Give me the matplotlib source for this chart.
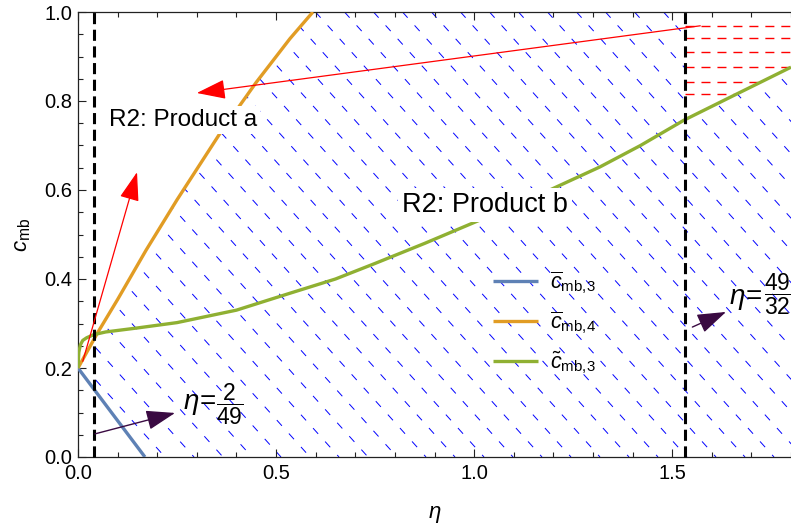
import numpy as np
import matplotlib
matplotlib.use('Agg')
import matplotlib.pyplot as plt
from matplotlib.collections import LineCollection
from matplotlib.patches import Polygon

plt.rcParams['font.family'] = ['Liberation Sans', 'DejaVu Sans']
plt.rcParams['mathtext.fontset'] = 'custom'
plt.rcParams['mathtext.rm'] = 'Liberation Sans'
plt.rcParams['mathtext.it'] = 'Liberation Sans:italic'
plt.rcParams['mathtext.bf'] = 'Liberation Sans:bold'
plt.rcParams['lines.scale_dashes'] = False

# curves
BLUE_X = [0.0, 0.169]
BLUE_Y = [0.2, 0.0]
ORANGE_X = [0.0, 0.05, 0.1, 0.172, 0.25, 0.359, 0.45, 0.535, 0.593]
ORANGE_Y = [0.2, 0.28, 0.354, 0.465, 0.578, 0.728, 0.842, 0.94, 1.0]
GREEN_X = [0.0, 0.002, 0.006, 0.012, 0.022, 0.04, 0.07, 0.15, 0.25, 0.4, 0.535,
           0.65, 0.75, 0.875, 1.008, 1.13, 1.235, 1.318, 1.42, 1.53, 1.65, 1.8]
GREEN_Y = [0.2, 0.235, 0.252, 0.262, 0.268, 0.275, 0.281, 0.29, 0.302, 0.33, 0.368,
           0.40, 0.435, 0.48, 0.53, 0.575, 0.618, 0.652, 0.70, 0.757, 0.81, 0.876]
LABELS = [r'$\overline{c}_{\mathrm{mb{,}3}}$', r'$\overline{c}_{\mathrm{mb{,}4}}$',
          r'$\tilde{c}_{\mathrm{mb{,}3}}$']
ETA_1 = 2 / 49
ETA_2 = 49 / 32
RED_Y = [0.9692, 0.9408, 0.9108, 0.8757, 0.8434, 0.8157]

C_BLUE = '#5E81B5'
C_ORANGE = '#E19C24'
C_GREEN = '#8FB032'
C_PURPLE = '#3a0a42'

fig = plt.figure(figsize=(7.91, 5.29), dpi=100)
ax = fig.add_axes([78 / 791, 72 / 529, 713 / 791, 445 / 529])
ax.set_xlim(0, 1.8)
ax.set_ylim(0, 1.0)

# clip regions
o_at = np.interp(ETA_1, ORANGE_X, ORANGE_Y)
b_at = np.interp(ETA_1, BLUE_X, BLUE_Y)
g_at = np.interp(ETA_2, GREEN_X, GREEN_Y)
ox = [x for x in ORANGE_X if x > ETA_1]
oy = [y for x, y in zip(ORANGE_X, ORANGE_Y) if x > ETA_1]
gx = [x for x in GREEN_X if x > ETA_2]
gy = [y for x, y in zip(GREEN_X, GREEN_Y) if x > ETA_2]
blue_poly = ([(ETA_1, b_at), (ETA_1, o_at)] + list(zip(ox, oy)) +
             [(ETA_2, 1.0), (ETA_2, g_at)] + list(zip(gx, gy)) +
             [(1.8, 0.0), (BLUE_X[-1], 0.0)])
blue_clip = Polygon(blue_poly, closed=True, transform=ax.transData,
                    facecolor='none', edgecolor='none')
ax.add_patch(blue_clip)
red_poly = [(ETA_2, g_at)] + list(zip(gx, gy)) + [(1.8, 1.0), (ETA_2, 1.0)]
red_clip = Polygon(red_poly, closed=True, transform=ax.transData,
                   facecolor='none', edgecolor='none')
ax.add_patch(red_clip)

# blue dashed hatching (drawn in axes fraction)
W, H = 713.0, 445.0
slope = 0.9
segs = []
for x0 in np.arange(-slope * H, W + 30, 29.0):
    segs.append([(x0 / W, 1.0), ((x0 + slope * H) / W, 0.0)])
hatch = LineCollection(segs, colors='#0000ff', linewidths=0.7,
                       linestyles=[(0, (5.5, 7.5))], transform=ax.transAxes, zorder=1)
hatch.set_clip_path(blue_clip)
ax.add_collection(hatch)

# red horizontal dashes
rsegs = [[(ETA_2, y), (1.8, y)] for y in RED_Y]
rh = LineCollection(rsegs, colors='#ff0000', linewidths=1.0,
                    linestyles=[(0, (6.5, 5.0))], zorder=1)
rh.set_clip_path(red_clip)
ax.add_collection(rh)

l1, = ax.plot(BLUE_X, BLUE_Y, color=C_BLUE, lw=2.4, zorder=3, solid_capstyle='butt')
l2, = ax.plot(ORANGE_X, ORANGE_Y, color=C_ORANGE, lw=2.4, zorder=3, solid_capstyle='butt')
l3, = ax.plot(GREEN_X, GREEN_Y, color=C_GREEN, lw=2.4, zorder=3, solid_capstyle='butt')

for xv in (ETA_1, ETA_2):
    ax.plot([xv, xv], [0, 1], color='black', lw=2.2, ls=(0, (8, 4)), zorder=4, clip_on=False)

ax.text(0.078, 0.744, 'R2: Product a', fontsize=17.5, va='baseline', ha='left', zorder=5,
        bbox=dict(boxstyle='square,pad=0.12', fc='white', ec='none'))
ax.text(0.818, 0.551, 'R2: Product b', fontsize=19.5, va='baseline', ha='left', zorder=5,
        bbox=dict(boxstyle='square,pad=0.15', fc='white', ec='none'))

# eta annotations: "eta =" and the fraction as two pieces
ax.text(0.265, 0.118, r'$\eta\!=$', fontsize=20, va='center', ha='left', zorder=6)
ax.text(0.382, 0.119, r'$\dfrac{2}{49}$', fontsize=16.5, va='center', ha='center', zorder=6)
ax.text(1.644, 0.355, r'$\eta\!=$', fontsize=20, va='center', ha='left', zorder=6)
ax.text(1.766, 0.366, r'$\dfrac{49}{32}$', fontsize=16.5, va='center', ha='center', zorder=6)

head = '-|>,head_length=0.5,head_width=0.17'
ax.annotate('', xy=(0.245, 0.099), xytext=(0.043, 0.052), zorder=6,
            arrowprops=dict(arrowstyle=head, color=C_PURPLE, lw=1.0, mutation_scale=36,
                            shrinkA=0, shrinkB=0))
ax.annotate('', xy=(1.636, 0.326), xytext=(1.551, 0.292), zorder=6,
            arrowprops=dict(arrowstyle=head, color=C_PURPLE, lw=1.0, mutation_scale=36,
                            shrinkA=0, shrinkB=0))
ax.annotate('', xy=(0.30, 0.818), xytext=(1.571, 0.969), zorder=6,
            arrowprops=dict(arrowstyle=head, color='#ff0000', lw=0.9, mutation_scale=36,
                            shrinkA=0, shrinkB=0))
ax.annotate('', xy=(0.149, 0.64), xytext=(0.012, 0.215), zorder=6,
            arrowprops=dict(arrowstyle=head, color='#ff0000', lw=0.9, mutation_scale=36,
                            shrinkA=0, shrinkB=0))

leg = ax.legend([l1, l2, l3], LABELS, loc='upper left', bbox_to_anchor=(0.582, 0.422),
                frameon=False, fontsize=15.5, handlelength=2.1, handletextpad=0.55,
                labelspacing=0.62, borderpad=0, borderaxespad=0)

# frame and ticks
ax.spines['right'].set_visible(False)
for s in ('left', 'bottom', 'top'):
    ax.spines[s].set_color('#222222')
    ax.spines[s].set_linewidth(0.9)
ax.set_xticks([0.0, 0.5, 1.0, 1.5])
ax.set_xticks(np.arange(0, 1.81, 0.1), minor=True)
ax.set_yticks(np.arange(0, 1.01, 0.2))
ax.set_yticks(np.arange(0, 1.01, 0.05), minor=True)
ax.xaxis.set_major_formatter(matplotlib.ticker.FormatStrFormatter('%.1f'))
ax.yaxis.set_major_formatter(matplotlib.ticker.FormatStrFormatter('%.1f'))
ax.tick_params(which='both', direction='in', top=True, right=False, colors='#222222',
               labelcolor='black', labelsize=14.5, width=0.8)
ax.tick_params(which='major', length=6)
ax.tick_params(which='minor', length=3.5)
ax.tick_params(axis='x', pad=5)
ax.tick_params(axis='y', pad=4)

ax.set_xlabel(r'$\eta$', fontsize=16, labelpad=15)
ax.set_ylabel(r'$c_{\mathrm{mb}}$', fontsize=16, labelpad=8)

fig.savefig('out.png', dpi=100)
